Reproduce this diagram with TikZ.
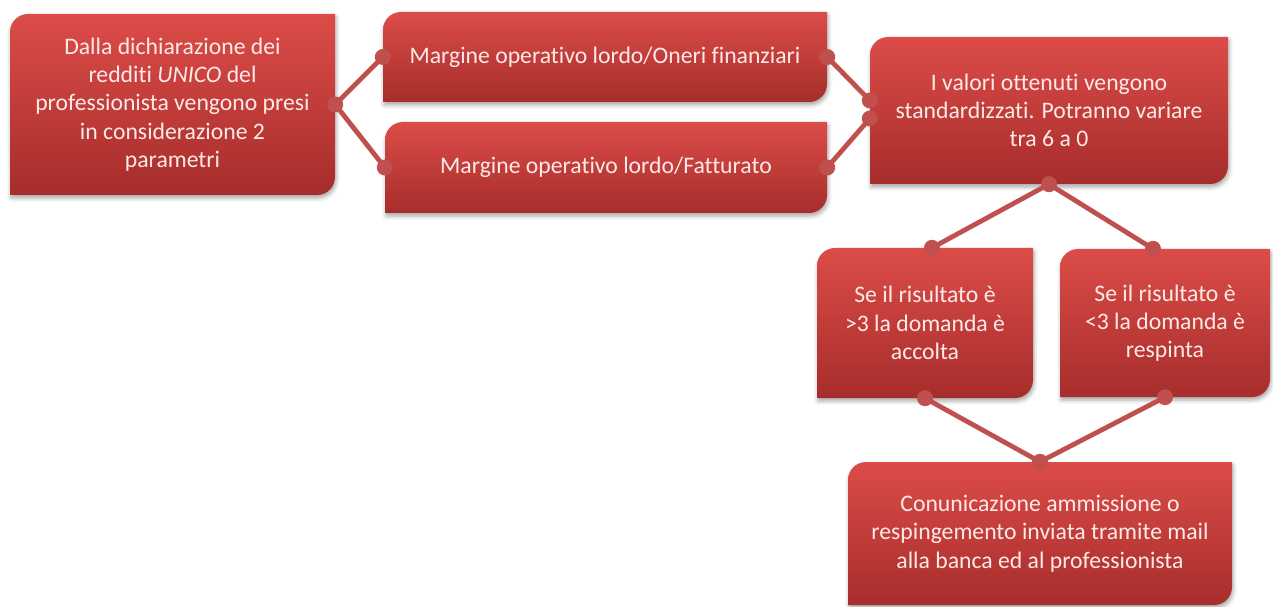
\documentclass[tikz,border=0pt]{standalone}
\usepackage{fontspec}
\setmainfont{Carlito}[RawFeature=-liga]
\usetikzlibrary{shadows.blur}
\definecolor{boxtop}{RGB}{220,76,72}
\definecolor{boxbot}{RGB}{166,45,43}
\definecolor{conn}{RGB}{192,80,77}
\definecolor{txt}{RGB}{253,234,232}
\tikzset{
 boxshape/.style={top color=boxtop, bottom color=boxbot, draw=none,
   blur shadow={shadow xshift=1bp, shadow yshift=-3bp, shadow blur radius=4bp, shadow opacity=35}},
 boxtext/.style={inner sep=0pt, align=center, text=txt, font=\fontsize{23.7bp}{28.3bp}\selectfont},
 link/.style={draw=conn, line width=4.8bp},
 linkdot/.style={fill=conn}
}
\newcommand\rbox[6]{%
 \path[boxshape] ({#2},{-(#3)-18}) arc[start angle=180,end angle=90,radius=18]
   -- ({#4},{-(#3)}) -- ({#4},{-(#5)+18}) arc[start angle=0,end angle=-90,radius=18]
   -- ({#2},{-(#5)}) -- cycle;
 \node[boxtext, minimum width={(#4-#2)*1bp}, minimum height={(#5-#3)*1bp}] (#1) at ({(#2+#4)/2},{-(#3+#5)/2}) {#6};
}
\begin{document}
\begin{tikzpicture}[x=1bp,y=1bp]
\useasboundingbox (0,0) rectangle (1273,-607);
\rbox{A}{10}{14}{335}{195}{Dalla dichiarazione dei\\redditi \textit{UNICO} del\\professionista vengono presi\\in considerazione 2\\parametri}
\rbox{B}{383}{12}{827}{102}{Margine operativo lordo/Oneri finanziari}
\rbox{C}{385}{122}{827}{213}{Margine operativo lordo/Fatturato}
\rbox{D}{870}{37}{1228}{184}{I valori ottenuti vengono\\standardizzati. Potranno variare\\tra 6 a 0}
\rbox{E}{817}{248}{1033}{398}{Se il risultato è\\>3 la domanda è\\accolta}
\rbox{F}{1060}{249}{1270}{397}{Se il risultato è\\<3 la domanda è\\respinta}
\rbox{G}{848}{462}{1232}{605}{Conunicazione ammissione o\\respingemento inviata tramite mail\\alla banca ed al professionista}
\coordinate (Din1) at ([yshift=10bp]D.west);
\coordinate (Din2) at ([yshift=-8bp]D.west);
\coordinate (Etop) at ([xshift=7bp]E.north);
\coordinate (Ftop) at ([xshift=-12bp]F.north);
\draw[link] (A.east) -- (B.west);
\draw[link] (A.east) -- (C.west);
\draw[link] (B.east) -- (Din1);
\draw[link] (C.east) -- (Din2);
\draw[link] (D.south) -- (Etop);
\draw[link] (D.south) -- (Ftop);
\draw[link] (E.south) -- (G.north);
\draw[link] (F.south) -- (G.north);
\foreach \p in {A.east,B.west,C.west,B.east,C.east,Din1,Din2,D.south,Etop,Ftop,E.south,F.south,G.north}
  \fill[linkdot] (\p) circle[radius=8];
\end{tikzpicture}
\end{document}
